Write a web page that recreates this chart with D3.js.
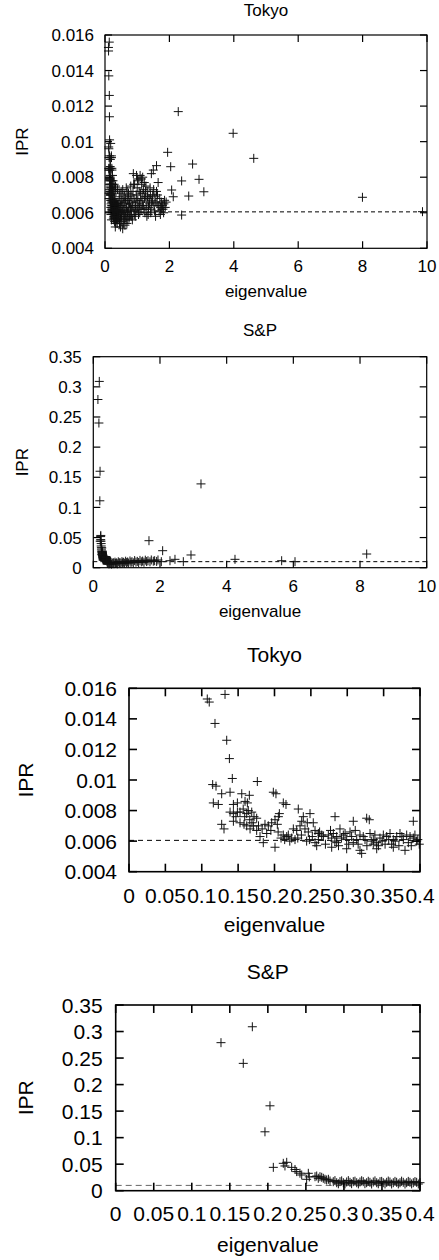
<!DOCTYPE html>
<html>
<head>
<meta charset="utf-8">
<script src="https://cdn.jsdelivr.net/npm/d3@7"></script>
<style>
  body { margin: 0; background: #fff; }
  svg { display: block; }
  text { font-family: "Liberation Sans", Arial, sans-serif; fill: #000; }
</style>
</head>
<body>
<div id="chart"></div>
<script>
// eigenvalue / IPR pairs
const tokyoPoints = [
  [0.1076,0.0153],[0.1103,0.0151],[0.132,0.0156],[0.1182,0.0137],[0.1343,0.0126],[0.138,0.0114],
  [0.142,0.0101],[0.1764,0.0099],[0.115,0.0097],[0.1196,0.0096],[0.1984,0.0092],[0.202,0.0091],
  [0.1274,0.0091],[0.1389,0.0092],[0.155,0.0091],[0.1654,0.009],[0.2121,0.0085],[0.2158,0.0084],
  [0.1159,0.0085],[0.1228,0.0084],[0.1435,0.0084],[0.149,0.0085],[0.1595,0.0086],[0.1627,0.0085],
  [0.2327,0.0081],[0.2488,0.0078],[0.2396,0.0076],[0.1389,0.0079],[0.1435,0.0078],[0.149,0.0079],
  [0.1526,0.0079],[0.1618,0.0078],[0.1687,0.0079],[0.1718,0.0076],[0.1755,0.0075],[0.2067,0.0078],
  [0.2053,0.0076],[0.2832,0.0076],[0.3267,0.0075],[0.3303,0.0074],[0.3083,0.0073],[0.3908,0.0073],
  [0.2374,0.0073],[0.2451,0.0072],[0.2533,0.0072],[0.1274,0.0071],[0.1306,0.0068],[0.1435,0.0073],
  [0.1526,0.0072],[0.1581,0.0071],[0.1618,0.0070],[0.1664,0.0068],[0.171,0.0070],[0.1869,0.0071],
  [0.1915,0.007],[0.1961,0.0072],[0.2007,0.0074],[0.2039,0.0071],[0.1801,0.0063],[0.1846,0.0059],
  [0.2007,0.0056],[0.1755,0.0067],[0.1893,0.0065],[0.2121,0.0064],[0.2168,0.0063],[0.2236,0.0062],
  [0.2282,0.0061],[0.2259,0.0068],[0.2305,0.0067],[0.2351,0.007],[0.2419,0.0068],[0.2465,0.0066],
  [0.2557,0.0067],[0.2603,0.0065],[0.2649,0.0064],[0.2557,0.0059],[0.2603,0.0061],[0.2672,0.0063],
  [0.274,0.0064],[0.2786,0.0062],[0.2809,0.0065],[0.2855,0.0063],[0.29,0.0068],[0.2946,0.0064],
  [0.2992,0.0061],[0.3038,0.0066],[0.3083,0.0059],[0.313,0.0061],[0.3175,0.0064],[0.3198,0.0052],
  [0.3244,0.0061],[0.3313,0.0065],[0.3358,0.0061],[0.3405,0.0059],[0.345,0.0062],[0.3496,0.0064],
  [0.3542,0.0063],[0.3588,0.0065],[0.3633,0.0061],[0.368,0.0063],[0.3725,0.0065],[0.3771,0.0061],
  [0.3817,0.0064],[0.3863,0.0063],[0.3908,0.0062],[0.3954,0.006],[0.399,0.0058],[0.2786,0.0056],
  [0.2992,0.0055],[0.3175,0.0054],[0.3405,0.0055],[0.3633,0.0056],[0.3794,0.0054],[0.2442,0.006],
  [0.2855,0.0059],[0.3358,0.0058],
  [0.178,0.0070],[0.183,0.0068],[0.195,0.0067],[0.205,0.0066],[0.209,0.0062],[0.214,0.0061],
  [0.219,0.0064],[0.221,0.006],[0.232,0.0062],[0.237,0.0064],[0.248,0.0061],[0.159,0.0076],
  [0.166,0.0074],[0.169,0.0072],[0.147,0.0076],[0.157,0.0081],[0.164,0.0080],
  [0.252,0.0063],[0.258,0.0057],[0.262,0.0066],[0.27,0.0058],[0.277,0.0067],[0.283,0.0060],
  [0.288,0.0057],[0.292,0.0062],[0.297,0.0065],[0.302,0.0058],[0.306,0.0063],[0.311,0.0067],
  [0.315,0.0058],[0.322,0.0063],[0.327,0.0057],[0.333,0.0060],[0.338,0.0064],[0.343,0.0057],
  [0.348,0.0060],[0.352,0.0058],[0.357,0.0061],[0.361,0.0058],[0.366,0.0060],[0.371,0.0057],
  [0.375,0.0063],[0.384,0.0059],[0.388,0.0057],[0.393,0.0064],[0.397,0.0061],
  // bulk beyond 0.4
  [0.42,0.0058],[0.43,0.0063],[0.44,0.0069],[0.45,0.0054],[0.46,0.0061],[0.47,0.0066],[0.48,0.0057],
  [0.5,0.0072],[0.5,0.0060],[0.52,0.0055],[0.53,0.0064],[0.55,0.0051],[0.56,0.0068],[0.57,0.0059],
  [0.58,0.0062],[0.6,0.0056],[0.6,0.0070],[0.62,0.0065],[0.63,0.0058],[0.65,0.0061],[0.66,0.0074],
  [0.68,0.0054],[0.69,0.0067],[0.7,0.0060],[0.72,0.0063],[0.73,0.0071],[0.75,0.0057],[0.76,0.0065],
  [0.78,0.0069],[0.8,0.0059],[0.8,0.0075],[0.82,0.0062],[0.84,0.0066],[0.85,0.0056],[0.87,0.0072],
  [0.88,0.0082],[0.9,0.0061],[0.9,0.0068],[0.92,0.0076],[0.94,0.0058],[0.95,0.0064],[0.97,0.0070],
  [0.98,0.0081],[1.0,0.0062],[1.0,0.0074],[1.02,0.0067],[1.04,0.0059],[1.05,0.0078],[1.07,0.0065],
  [1.09,0.0081],[1.1,0.0071],[1.12,0.0062],[1.14,0.0076],[1.15,0.0068],[1.17,0.0080],[1.19,0.0064],
  [1.2,0.0073],[1.22,0.0077],[1.24,0.0060],[1.25,0.0069],[1.27,0.0075],[1.3,0.0066],[1.3,0.0058],
  [1.33,0.0072],[1.35,0.0063],[1.37,0.0068],[1.4,0.0074],[1.42,0.0060],[1.44,0.0082],[1.45,0.0066],
  [1.48,0.0070],[1.5,0.0084],[1.52,0.0064],[1.55,0.0069],[1.57,0.0058],[1.6,0.0072],[1.62,0.0065],
  [1.65,0.0077],[1.68,0.0061],[1.7,0.0068],[1.73,0.0063],[1.75,0.0066],[1.78,0.0064],[1.8,0.0062],
  [1.83,0.0065],[1.87,0.0063],[1.9,0.0066],
  [0.41,0.0065],[0.43,0.0056],[0.44,0.0060],[0.46,0.0071],[0.48,0.0052],[0.49,0.0064],[0.51,0.0058],
  [0.52,0.0067],[0.54,0.0061],[0.55,0.0073],[0.57,0.0054],[0.59,0.0066],[0.61,0.0060],[0.62,0.0053],
  [0.64,0.0068],[0.66,0.0057],[0.67,0.0063],[0.69,0.0072],[0.71,0.0056],[0.72,0.0067],[0.74,0.0061],
  [0.77,0.0058],[0.79,0.0063],[0.81,0.0070],[0.83,0.0058],[0.86,0.0064],[0.89,0.0076],[0.91,0.0059],
  [0.93,0.0066],[0.96,0.0061],[0.99,0.0068],[1.01,0.0079],[1.03,0.0063],[1.06,0.0072],[1.08,0.0060],
  [1.11,0.0067],[1.13,0.0079],[1.16,0.0064],[1.18,0.0071],[1.21,0.0062],[1.23,0.0068],[1.26,0.0072],
  [1.28,0.0062],[1.32,0.0069],[1.34,0.0059],[1.38,0.0065],[1.41,0.0070],[1.43,0.0062],[1.47,0.0067],
  [1.51,0.0073],[1.54,0.0061],[1.58,0.0066],[1.63,0.0070],[1.67,0.0064],[1.72,0.0059],[1.76,0.0062],
  [1.82,0.0060],[1.85,0.0067],
  // outliers
  [1.6,0.00865],[1.945,0.0094],[2.04,0.00859],[2.07,0.00728],[2.12,0.0069],[2.275,0.01169],
  [2.38,0.00779],[2.38,0.00587],[2.6,0.00694],[2.72,0.00874],[2.92,0.00788],[3.07,0.00718],
  [3.98,0.01047],[4.62,0.00906],[7.995,0.00687],[9.86,0.00606]
];

const spPoints = [
  [0.1384,0.279],[0.1677,0.240],[0.1796,0.309],[0.1962,0.111],[0.2028,0.160],[0.2072,0.044],
  [0.2203,0.0516],[0.2225,0.0466],[0.2248,0.0535],[0.2313,0.044],[0.2357,0.040],[0.2379,0.036],
  [0.2422,0.033],[0.2445,0.0296],[0.251,0.0215],[0.2532,0.0328],[0.2545,0.026],[0.262,0.0264],
  [0.2642,0.0277],[0.2663,0.0234],[0.2685,0.0264],[0.2708,0.0253],[0.2729,0.0234],[0.2751,0.0215],
  [0.2773,0.0202],[0.2817,0.0183],[0.286,0.017],[0.2905,0.0151],[0.2948,0.017],[0.2992,0.0151],
  [0.3036,0.0164],[0.308,0.0158],[0.3123,0.017],[0.3168,0.0151],[0.3211,0.0164],[0.3254,0.017],
  [0.3299,0.0151],[0.3342,0.0158],[0.3386,0.0164],[0.3431,0.0151],[0.3474,0.017],[0.3517,0.0151],
  [0.3562,0.0158],[0.3605,0.0164],[0.3649,0.0151],[0.3693,0.0158],[0.3737,0.0151],[0.378,0.0158],
  [0.3825,0.0151],[0.3868,0.0158],[0.3912,0.0151],[0.3956,0.0158],[0.4,0.0151],
  [0.2796,0.0215],[0.2882,0.0190],[0.2927,0.0130],[0.297,0.0185],[0.3014,0.0128],[0.3058,0.0190],
  [0.3101,0.0132],[0.3145,0.0180],[0.319,0.0128],[0.3233,0.0188],[0.3276,0.0132],[0.332,0.0178],
  [0.3364,0.0126],[0.3408,0.0185],[0.3452,0.013],[0.3496,0.0176],[0.354,0.0128],[0.3583,0.0182],
  [0.3627,0.0126],[0.3671,0.0176],[0.3715,0.0128],[0.3758,0.018],[0.3803,0.0126],[0.3846,0.0176],
  [0.389,0.0128],[0.3934,0.0172],[0.3978,0.0126],
  // bulk beyond 0.4
  [0.41,0.0095],[0.43,0.0072],[0.45,0.0085],[0.47,0.0062],[0.49,0.0078],[0.51,0.0068],[0.53,0.0090],
  [0.55,0.0058],[0.57,0.0075],[0.6,0.0083],[0.62,0.0066],[0.65,0.0092],[0.67,0.0071],[0.7,0.0080],
  [0.72,0.0064],[0.75,0.0098],[0.78,0.0076],[0.8,0.0087],[0.83,0.0069],[0.86,0.0101],[0.88,0.0079],
  [0.91,0.0090],[0.94,0.0073],[0.97,0.0108],[1.0,0.0084],[1.03,0.0095],[1.06,0.0077],[1.1,0.0112],
  [1.13,0.0088],[1.16,0.0099],[1.2,0.0081],[1.24,0.0118],[1.28,0.0092],[1.32,0.0105],[1.36,0.0086],
  [1.4,0.0121],[1.44,0.0097],[1.48,0.0110],[1.52,0.0090],[1.56,0.0125],[1.6,0.0102],[1.64,0.0115],
  [1.7,0.0098],[1.74,0.0128],[1.8,0.0108],[1.84,0.0116],[1.9,0.0104],[1.94,0.0128],[2.04,0.0100],
  // outliers
  [1.67,0.0448],[2.08,0.0282],[2.3,0.0116],[2.45,0.0139],[2.7,0.0100],[2.93,0.0211],[3.23,0.139],
  [4.25,0.0139],[5.65,0.0116],[6.05,0.0100],[8.2,0.0227]
];

const xTicksFull = [0, 2, 4, 6, 8, 10];
const xTicksZoom = [0, 0.05, 0.1, 0.15, 0.2, 0.25, 0.3, 0.35, 0.4];
const tokyoYTicks = [0.004, 0.006, 0.008, 0.01, 0.012, 0.014, 0.016];
const spYTicks = [0, 0.05, 0.1, 0.15, 0.2, 0.25, 0.3, 0.35];
const tokyoRef = 0.00605;
const spRef = 0.01;

const panels = [
  {title: "Tokyo", pts: tokyoPoints, xDom: [0, 10], xTicks: xTicksFull, yDom: [0.004, 0.016], yTicks: tokyoYTicks, ref: tokyoRef,
   box: {l: 105, r: 427, t: 35, b: 248.3}, fs: 17, titleY: 16, ylabX: 28, xtickDy: 23.4, xlabDy: 49, ytickGap: 11, tick: 7, dash: "4,3", dashColor: "#000"},
  {title: "S&P", pts: spPoints, xDom: [0, 10], xTicks: xTicksFull, yDom: [0, 0.35], yTicks: spYTicks, ref: spRef,
   box: {l: 93.3, r: 426.7, t: 356.7, b: 567.7}, fs: 17, titleY: 336, ylabX: 28, xtickDy: 24, xlabDy: 49, ytickGap: 11.5, tick: 7, dash: "4,3", dashColor: "#000"},
  {title: "Tokyo", pts: tokyoPoints, xDom: [0, 0.4], xTicks: xTicksZoom, yDom: [0.004, 0.016], yTicks: tokyoYTicks, ref: tokyoRef,
   box: {l: 129, r: 420, t: 688.3, b: 871.7}, fs: 21, titleY: 661.7, ylabX: 33, xtickDy: 31, xlabDy: 60, ytickGap: 12, tick: 8, dash: "5,4", dashColor: "#000"},
  {title: "S&P", pts: spPoints, xDom: [0, 0.4], xTicks: xTicksZoom, yDom: [0, 0.35], yTicks: spYTicks, ref: spRef,
   box: {l: 115.7, r: 420, t: 1005, b: 1190.7}, fs: 21, titleY: 979, ylabX: 33, xtickDy: 30, xlabDy: 61, ytickGap: 13, tick: 8, dash: "6,4", dashColor: "#666"}
];

const svg = d3.select("#chart").append("svg")
  .attr("width", 439)
  .attr("height", 1260);

const fmt = d => String(+d.toFixed(4));

panels.forEach(p => {
  let b = p.box;
  let x = d3.scaleLinear().domain(p.xDom).range([b.l, b.r]);
  let y = d3.scaleLinear().domain(p.yDom).range([b.b, b.t]);
  let g = svg.append("g");
  let sw = p.fs > 18 ? 1.6 : 1.2;

  // reference level
  g.append("line")
    .attr("x1", x(p.xDom[0])).attr("x2", x(p.xDom[1]))
    .attr("y1", y(p.ref)).attr("y2", y(p.ref))
    .attr("stroke", p.dashColor)
    .attr("stroke-width", 1)
    .attr("stroke-dasharray", p.dash);

  // points as "+" markers
  let pts = p.pts.filter(d => d[0] >= p.xDom[0] && d[0] <= p.xDom[1] && d[1] >= p.yDom[0] && d[1] <= p.yDom[1]);
  let s = 4.5;
  g.append("path")
    .attr("fill", "none")
    .attr("stroke", "#111")
    .attr("stroke-width", 1)
    .attr("d", pts.map(d => {
      let px = x(d[0]), py = y(d[1]);
      return `M${px - s},${py}H${px + s}M${px},${py - s}V${py + s}`;
    }).join(""));

  // ticks on all four sides, pointing inward
  p.xTicks.forEach(t => {
    g.append("line").attr("x1", x(t)).attr("x2", x(t)).attr("y1", b.b).attr("y2", b.b - p.tick)
      .attr("stroke", "#000").attr("stroke-width", sw);
    g.append("line").attr("x1", x(t)).attr("x2", x(t)).attr("y1", b.t).attr("y2", b.t + p.tick)
      .attr("stroke", "#000").attr("stroke-width", sw);
    g.append("text")
      .attr("x", x(t)).attr("y", b.b + p.xtickDy)
      .attr("text-anchor", "middle")
      .attr("font-size", p.fs)
      .text(fmt(t));
  });
  p.yTicks.forEach(t => {
    g.append("line").attr("x1", b.l).attr("x2", b.l + p.tick).attr("y1", y(t)).attr("y2", y(t))
      .attr("stroke", "#000").attr("stroke-width", sw);
    g.append("line").attr("x1", b.r).attr("x2", b.r - p.tick).attr("y1", y(t)).attr("y2", y(t))
      .attr("stroke", "#000").attr("stroke-width", sw);
    g.append("text")
      .attr("x", b.l - p.ytickGap).attr("y", y(t) + p.fs * 0.36)
      .attr("text-anchor", "end")
      .attr("font-size", p.fs)
      .text(fmt(t));
  });

  // frame
  g.append("rect")
    .attr("x", b.l).attr("y", b.t)
    .attr("width", b.r - b.l).attr("height", b.b - b.t)
    .attr("fill", "none")
    .attr("stroke", "#000")
    .attr("stroke-width", sw);

  // title and axis labels
  g.append("text")
    .attr("x", (b.l + b.r) / 2).attr("y", p.titleY)
    .attr("text-anchor", "middle")
    .attr("font-size", p.fs)
    .text(p.title);

  g.append("text")
    .attr("x", (b.l + b.r) / 2).attr("y", b.b + p.xlabDy)
    .attr("text-anchor", "middle")
    .attr("font-size", p.fs)
    .text("eigenvalue");

  g.append("text")
    .attr("transform", `translate(${p.ylabX}, ${(b.t + b.b) / 2}) rotate(-90)`)
    .attr("text-anchor", "middle")
    .attr("font-size", p.fs)
    .text("IPR");
});
</script>
</body>
</html>
